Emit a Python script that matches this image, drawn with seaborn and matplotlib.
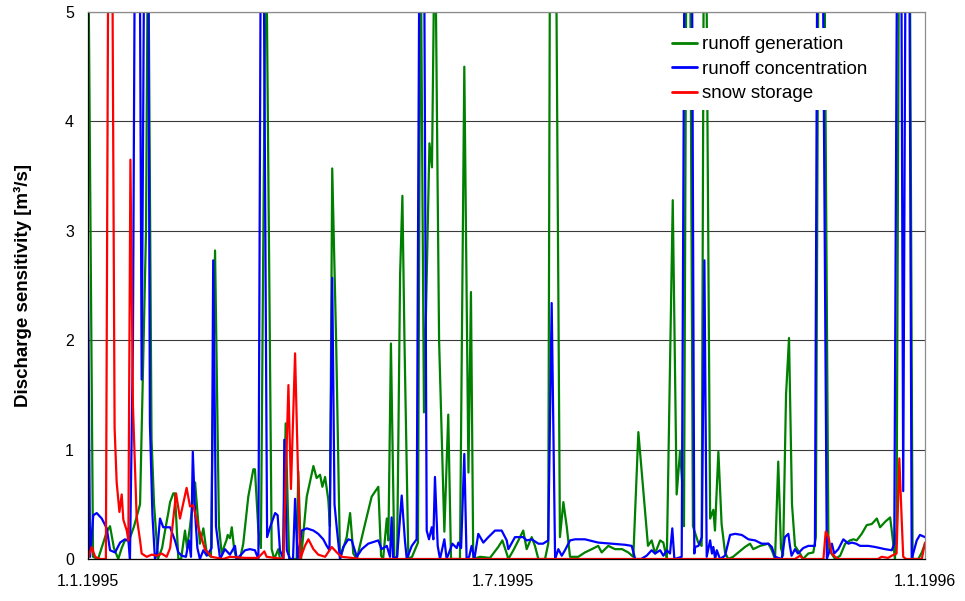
import matplotlib
matplotlib.use("Agg")
import matplotlib.pyplot as plt
import numpy as np
import pandas as pd
import seaborn as sns

# Daily discharge sensitivity, 1995 (day offset from 1 Jan 1995, value in m3/s)
gen_days = [0.0, 2.2, 4.4, 8.2, 9.6, 11.3, 13.2, 14.7, 16.1, 17.9, 20.1, 22.7, 25.3, 26.2, 27.7, 28.8,
            30.5, 32.3, 33.6, 35.0, 35.8, 37.2, 37.9, 39.4, 40.6, 42.3, 43.2, 44.5, 46.7, 48.8, 50.3,
            51.8, 53.6, 55.4, 57.1, 58.3, 60.5, 60.9, 61.9, 62.7, 63.8, 64.8, 66.3, 67.7, 69.9, 72.1,
            72.8, 74.3, 75.4, 77.6, 80.1, 81.2, 83.0, 83.7, 85.0, 86.2, 87.7, 91.0, 91.7, 92.9, 95.4,
            98.3, 99.7, 101.2, 102.2, 103.4, 104.8, 105.5, 106.5, 108.2, 109.9, 112.8, 114.3, 115.7,
            117.2, 120.8, 123.7, 126.6, 127.8, 128.7, 130.3, 131.0, 132.1, 133.6, 134.8, 136.1, 137.1,
            138.0, 139.7, 141.3, 143.3, 143.9, 145.0, 146.5, 148.9, 150.0, 151.3, 153.1, 155.4, 157.1,
            158.3, 162.2, 164.1, 165.9, 167.0, 168.0, 171.0, 175.3, 178.9, 180.7, 182.6, 183.3, 185.5,
            187.7, 189.8, 191.3, 193.5, 194.9, 196.4, 199.3, 200.7, 201.5, 204.0, 205.8, 207.3, 208.8,
            210.2, 213.8, 216.7, 219.7, 222.5, 224.0, 226.9, 229.8, 232.9, 235.6, 237.8, 240.0, 244.2,
            245.8, 247.3, 249.5, 250.9, 252.4, 255.0, 256.7, 258.2, 259.1, 259.9, 261.0, 262.5, 263.8,
            266.1, 267.6, 268.6, 269.5, 271.3, 272.7, 273.4, 274.9, 276.3, 277.8, 279.2, 281.3, 283.6,
            286.5, 288.7, 290.1, 293.1, 296.7, 298.2, 299.6, 301.0, 302.2, 303.1, 304.4, 305.7, 307.0,
            308.3, 310.5, 311.8, 314.1, 316.3, 317.4, 318.6, 321.0, 322.9, 325.8, 328.0, 330.2, 332.3,
            333.8, 335.2, 337.4, 339.6, 341.8, 344.0, 345.4, 347.6, 349.8, 350.5, 351.9, 352.6, 353.7,
            358.3, 359.6, 362.1, 363.6, 365.0]
gen_vals = [6.0, 0.02, 0.0, 0.25, 0.3, 0.1, 0.0, 0.1, 0.17, 0.17, 0.3, 0.5, 3.0, 6.0, 1.1, 0.5,
            0.0, 0.1, 0.26, 0.42, 0.52, 0.6, 0.6, 0.0, 0.0, 0.26, 0.1, 0.3, 0.7, 0.14, 0.28,
            0.05, 0.02, 2.82, 0.3, 0.05, 0.18, 0.22, 0.19, 0.29, 0.08, 0.0, 0.0, 0.14, 0.57, 0.82,
            0.82, 0.26, 0.1, 6.0, 0.09, 0.0, 0.09, 0.0, 0.0, 1.24, 0.0, 0.0, 0.8, 0.0, 0.57,
            0.85, 0.74, 0.77, 0.66, 0.75, 0.54, 0.3, 3.57, 2.0, 0.0, 0.2, 0.42, 0.05,
            0.0, 0.32, 0.57, 0.66, 0.03, 0.0, 0.37, 0.17, 1.97, 0.0, 0.02, 2.6, 3.32,
            2.0, 0.0, 0.02, 0.12, 0.15, 6.0, 1.34, 3.8, 3.58, 6.0, 2.0, 0.25, 1.32,
            0.0, 0.0, 4.5, 0.79, 2.44, 0.0, 0.02, 0.01, 0.11, 0.17, 0.05, 0.0, 0.08,
            0.17, 0.26, 0.09, 0.2, 0.12, 0.0, 0.0, 0.14, 6.0, 6.0, 0.2, 0.52, 0.29,
            0.02, 0.02, 0.06, 0.09, 0.12, 0.06, 0.12, 0.09, 0.09, 0.06, 0.02, 1.16, 0.12,
            0.17, 0.05, 0.17, 0.15, 0.0, 3.28, 0.59, 0.99, 0.7, 0.3, 6.0, 6.0, 0.3,
            0.15, 0.12, 6.0, 6.0, 0.37, 0.45, 0.26, 0.98, 0.32, 0.06, 0.0, 0.02, 0.06,
            0.11, 0.14, 0.09, 0.12, 0.14, 0.08, 0.0, 0.89, 0.1, 0.03, 1.5, 2.02, 0.5,
            0.12, 0.05, 0.0, 0.05, 0.06, 0.2, 6.0, 6.0, 0.09, 0.0, 0.03, 0.14, 0.17,
            0.18, 0.17, 0.23, 0.31, 0.32, 0.37, 0.29, 0.34, 0.38, 0.26, 0.0, 0.3, 6.0,
            6.0, 0.0, 0.0, 0.06, 0.14]

conc_days = [0.0, 0.9, 2.3, 3.8, 6.0, 8.2, 9.6, 11.8, 14.0, 16.1, 17.6, 18.3, 19.6, 20.5, 22.5, 23.4,
             24.6, 26.2, 27.0, 28.1, 29.2, 30.1, 31.4, 32.8, 35.8, 37.9, 39.4, 40.9, 42.7, 44.0, 44.9,
             45.7, 46.7, 47.7, 48.8, 50.3, 51.8, 53.9, 54.6, 55.8, 57.6, 59.7, 61.9, 64.1, 64.8, 66.3,
             68.5, 70.6, 72.8, 74.3, 75.4, 76.5, 78.1, 79.4, 81.6, 82.7, 83.7, 85.2, 85.6, 86.7, 88.1,
             89.4, 90.3, 91.4, 93.2, 95.4, 98.3, 100.4, 102.6, 104.1, 105.3, 106.5, 107.5, 108.5, 109.9,
             111.3, 113.5, 115.0, 117.2, 119.4, 122.2, 126.6, 128.0, 130.3, 131.7, 132.4, 133.1, 134.8,
             136.8, 138.2, 139.0, 141.2, 143.3, 144.6, 146.5, 147.7, 148.7, 149.9, 150.6, 151.3, 152.5,
             153.5, 155.4, 156.4, 158.9, 160.8, 161.5, 162.7, 164.1, 165.1, 166.2, 167.3, 168.5, 170.2,
             172.4, 174.6, 177.5, 180.4, 182.6, 183.3, 186.2, 189.8, 191.3, 193.5, 196.4, 198.4, 200.7,
             202.2, 203.7, 205.1, 206.6, 208.0, 210.2, 212.4, 216.7, 222.5, 228.4, 234.2, 237.1, 238.6,
             241.2, 243.6, 245.8, 247.3, 249.5, 250.9, 252.4, 253.8, 254.8, 255.7, 258.9, 260.2, 263.3,
             264.4, 264.8, 266.2, 267.7, 268.8, 269.8, 271.3, 272.1, 272.7, 273.5, 274.2, 275.6, 277.8,
             280.0, 282.2, 285.1, 288.0, 290.9, 293.8, 296.7, 298.2, 299.6, 302.5, 303.9, 305.4, 306.1,
             306.8, 308.3, 309.6, 311.9, 314.1, 317.0, 318.1, 320.3, 322.2, 324.4, 325.4, 327.2, 329.4,
             331.6, 333.1, 334.9, 336.7, 340.3, 343.2, 347.6, 350.5, 351.6, 352.9, 354.6, 355.5, 356.6,
             358.1, 359.2, 361.4, 362.8, 365.0]
conc_vals = [2.6, 0.02, 0.4, 0.42, 0.37, 0.28, 0.08, 0.06, 0.15, 0.18, 0.17, 0.0, 2.0, 6.0, 6.0, 1.64,
             6.0, 6.0, 1.24, 0.4, 0.0, 0.05, 0.37, 0.29, 0.29, 0.17, 0.06, 0.03, 0.02, 0.17, 0.02,
             0.98, 0.42, 0.1, 0.0, 0.08, 0.03, 0.1, 2.73, 0.3, 0.0, 0.09, 0.04, 0.12, 0.0, 0.03,
             0.08, 0.09, 0.08, 0.0, 6.0, 6.0, 0.2, 0.29, 0.42, 0.4, 0.08, 0.0, 1.09, 0.08, 0.0,
             0.0, 0.55, 0.0, 0.26, 0.28, 0.26, 0.23, 0.18, 0.12, 0.08, 2.57, 0.5, 0.28, 0.0,
             0.11, 0.18, 0.17, 0.02, 0.09, 0.14, 0.17, 0.09, 0.12, 0.02, 0.38, 0.0, 0.02,
             0.58, 0.17, 0.0, 0.12, 0.18, 6.0, 6.0, 0.26, 0.18, 0.29, 0.18, 0.75, 0.12,
             0.0, 0.18, 0.0, 0.14, 0.1, 0.15, 0.1, 0.96, 0.0, 0.02, 0.12, 0.0, 0.23,
             0.15, 0.2, 0.26, 0.26, 0.17, 0.09, 0.2, 0.2, 0.17, 0.18, 0.14, 0.14, 0.17,
             2.34, 0.0, 0.09, 0.03, 0.08, 0.17, 0.18, 0.18, 0.15, 0.14, 0.13, 0.12, 0.0,
             0.0, 0.03, 0.08, 0.05, 0.08, 0.03, 0.08, 0.05, 0.28, 0.0, 0.02, 6.0, 6.0,
             0.05, 0.11, 0.12, 0.2, 2.73, 0.02, 0.17, 0.05, 0.11, 0.0, 0.08, 0.0, 0.03,
             0.22, 0.23, 0.22, 0.18, 0.17, 0.14, 0.14, 0.11, 0.02, 0.0, 0.2, 0.23, 0.12,
             0.03, 0.09, 0.05, 0.1, 0.12, 0.12, 6.0, 6.0, 0.0, 0.14, 0.05, 0.09, 0.18,
             0.14, 0.15, 0.14, 0.12, 0.12, 0.11, 0.09, 0.08, 0.14, 6.0, 6.0, 0.62, 6.0,
             6.0, 0.0, 0.17, 0.22, 0.2]

snow_days = [0.0, 1.6, 3.1, 5.2, 7.8, 8.9, 10.5, 11.6, 12.5, 13.7, 14.7, 15.4, 16.9, 17.6, 18.5, 19.6,
             21.2, 22.7, 23.4, 25.6, 27.8, 30.0, 32.1, 34.3, 35.8, 38.4, 40.1, 43.0, 44.5, 45.9, 48.1,
             51.0, 53.9, 58.9, 61.9, 68.5, 74.1, 76.9, 77.9, 85.2, 87.4, 88.5, 90.3, 92.5, 94.6, 96.1,
             98.3, 100.4, 103.4, 106.3, 108.5, 110.6, 115.1, 118.6, 308.3, 310.5, 311.8, 320.7, 321.7,
             322.9, 324.3, 325.8, 327.1, 344.5, 346.1, 348.9, 350.5, 352.6, 353.8, 354.8, 355.5, 356.7,
             363.6, 365.0]
snow_vals = [0.0, 0.11, 0.02, 0.0, 0.0, 6.0, 6.0, 1.2, 0.7, 0.43, 0.59, 0.36, 0.26, 0.17, 3.65, 1.4,
             0.39, 0.17, 0.05, 0.02, 0.04, 0.03, 0.05, 0.02, 0.1, 0.6, 0.37, 0.65, 0.48, 0.49, 0.29,
             0.09, 0.02, 0.0, 0.02, 0.01, 0.01, 0.07, 0.02, 0.0, 1.59, 0.64, 1.88, 0.0, 0.12, 0.18,
             0.09, 0.04, 0.02, 0.11, 0.06, 0.02, 0.01, 0.0, 0.0, 0.03, 0.0, 0.0, 0.25,
             0.2, 0.05, 0.02, 0.0, 0.0, 0.02, 0.01, 0.03, 0.05, 0.92, 0.38, 0.02, 0.0,
             0.0, 0.15]

series_names = ["runoff generation", "runoff concentration", "snow storage"]
series_colors = ["#008000", "#0000FF", "#FF0000"]

y_ticks = [0, 1, 2, 3, 4, 5]
x_tick_dates = ["1995-01-01", "1995-07-01", "1996-01-01"]
x_tick_labels = ["1.1.1995", "1.7.1995", "1.1.1996"]

start = pd.Timestamp("1995-01-01")
frames = []
for name, days, vals in zip(series_names,
                            [gen_days, conc_days, snow_days],
                            [gen_vals, conc_vals, snow_vals]):
    frames.append(pd.DataFrame({
        "date": start + pd.to_timedelta(np.asarray(days), unit="D"),
        "value": vals,
        "series": name,
    }))
df = pd.concat(frames, ignore_index=True)

sns.set_style("white")
plt.rcParams["font.family"] = ["Liberation Sans", "DejaVu Sans"]
plt.rcParams["text.color"] = "black"
plt.rcParams["axes.labelcolor"] = "black"

fig = plt.figure(figsize=(9.65, 6.01), dpi=100)
ax = fig.add_axes([88 / 965, 1 - 559 / 601, 837 / 965, 547 / 601])

sns.lineplot(data=df, x="date", y="value", hue="series", hue_order=series_names,
             palette=dict(zip(series_names, series_colors)), estimator=None,
             sort=False, linewidth=1.6, ax=ax)

ax.set_ylim(0, 5)
ax.set_xlim(pd.Timestamp(x_tick_dates[0]), pd.Timestamp(x_tick_dates[-1]))
ax.set_yticks(y_ticks)
ax.set_yticklabels([str(t) for t in y_ticks])
ax.set_xticks([pd.Timestamp(d) for d in x_tick_dates])
ax.set_xticklabels(x_tick_labels)
ax.tick_params(axis="both", direction="out", length=5, width=0.8, color="black",
               labelsize=11.5, labelcolor="black")
ax.tick_params(axis="y", pad=5)
ax.tick_params(axis="x", pad=6)

ax.yaxis.grid(True, color="#3a3a3a", linewidth=0.8)
ax.xaxis.grid(False)
ax.set_axisbelow(True)

for side in ["left", "bottom"]:
    ax.spines[side].set_color("black")
    ax.spines[side].set_linewidth(0.9)
for side in ["right", "top"]:
    ax.spines[side].set_color("#8c8c8c")
    ax.spines[side].set_linewidth(0.9)

ax.set_xlabel("")
ax.set_ylabel("Discharge sensitivity [m³/s]", fontsize=13.5, fontweight="bold",
              color="black", labelpad=24)

handles, labels = ax.get_legend_handles_labels()
leg = ax.legend(handles, labels, loc="upper left", bbox_to_anchor=(0.677, 0.987),
                frameon=True, facecolor="white", edgecolor="none", framealpha=1,
                fontsize=13.5, handlelength=1.35, handletextpad=0.28, labelspacing=0.4,
                borderpad=0.4, fancybox=False)
for line in leg.get_lines():
    line.set_linewidth(2.0)

fig.savefig("out.png", dpi=100)
